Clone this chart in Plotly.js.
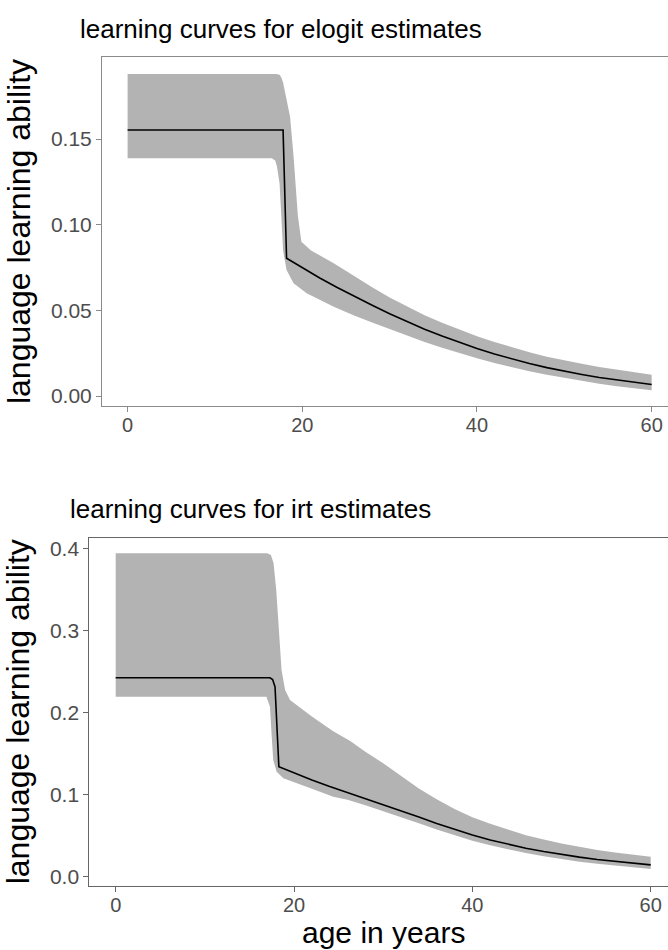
<!DOCTYPE html>
<html>
<head>
<meta charset="utf-8">
<script src="https://cdn.plot.ly/plotly-3.0.1.min.js"></script>
<style>html,body{margin:0;padding:0;background:#fff;}#chart{width:668px;height:950px;}</style>
</head>
<body>
<div id="chart"></div>
<script>
// ---- elogit panel ----
const ageMeanElogit = [0, 17.8, 18.2, 20, 22, 24, 26, 28, 30, 32, 34, 36, 38, 40, 42, 44, 46, 48, 50, 52, 54, 56, 58, 60];
const meanElogit = [0.1553, 0.1553, 0.0804, 0.0748, 0.0689, 0.0634, 0.0581, 0.0530, 0.0480, 0.0434, 0.0390, 0.0350, 0.0312, 0.0277, 0.0245, 0.0216, 0.0190, 0.0166, 0.0145, 0.0126, 0.0108, 0.0093, 0.0079, 0.0067];
const ageUpperElogit = [0, 17.0, 17.4, 17.6, 17.8, 18.2, 18.6, 19.0, 19.2, 19.5, 19.9, 21, 23.6, 26, 28, 30, 32, 34, 36, 38, 40, 42, 44, 46, 48, 50, 52, 54, 56, 58, 60];
const upperElogit = [0.188, 0.188, 0.1875, 0.186, 0.183, 0.174, 0.163, 0.140, 0.124, 0.105, 0.090, 0.085, 0.0775, 0.0696, 0.0635, 0.0575, 0.0522, 0.0472, 0.0428, 0.0387, 0.0349, 0.0315, 0.0284, 0.0256, 0.0230, 0.0208, 0.0188, 0.0169, 0.0153, 0.0139, 0.0125];
const ageLowerElogit = [0, 16.5, 16.9, 17.1, 17.4, 17.6, 17.8, 18.2, 19.0, 20.5, 23.6, 26, 28, 30, 32, 34, 36, 38, 40, 42, 44, 46, 48, 50, 52, 54, 56, 58, 60];
const lowerElogit = [0.1388, 0.1388, 0.1375, 0.134, 0.124, 0.105, 0.085, 0.0736, 0.0658, 0.060, 0.0521, 0.0469, 0.0430, 0.0390, 0.0352, 0.0315, 0.0282, 0.0250, 0.0220, 0.0193, 0.0168, 0.0145, 0.0124, 0.0105, 0.0088, 0.0072, 0.0058, 0.0045, 0.0034];

// ---- irt panel ----
const ageMeanIrt = [0, 17.3, 17.6, 17.87, 18.3, 20, 22, 24, 26, 28, 30, 32, 34, 36, 38, 40, 42, 44, 46, 48, 50, 52, 54, 56, 58, 60];
const meanIrt = [0.2422, 0.2422, 0.240, 0.231, 0.1337, 0.1260, 0.1175, 0.1095, 0.1021, 0.0952, 0.0879, 0.0802, 0.0723, 0.0645, 0.0571, 0.0503, 0.0443, 0.0390, 0.0343, 0.0302, 0.0266, 0.0234, 0.0206, 0.0181, 0.0159, 0.0140];
const ageUpperIrt = [0, 17.0, 17.4, 17.7, 18.0, 18.24, 18.6, 19.0, 19.55, 22, 24.4, 26.3, 28, 30, 32, 34, 36, 38, 40, 42, 44, 46, 48, 50, 52, 54, 56, 58, 60];
const upperIrt = [0.394, 0.394, 0.392, 0.382, 0.350, 0.3126, 0.2516, 0.2272, 0.215, 0.195, 0.177, 0.165, 0.152, 0.138, 0.122, 0.107, 0.094, 0.082, 0.072, 0.064, 0.057, 0.050, 0.045, 0.040, 0.036, 0.032, 0.029, 0.026, 0.0239];
const ageLowerIrt = [0, 16.9, 17.3, 17.5, 17.67, 18.05, 18.8, 20, 22, 24.4, 26, 28, 30, 32, 34, 36, 38, 40, 42, 44, 46, 48, 50, 52, 54, 56, 58, 60];
const lowerIrt = [0.219, 0.219, 0.2068, 0.170, 0.1418, 0.1276, 0.1195, 0.1147, 0.1067, 0.0971, 0.0933, 0.0867, 0.0797, 0.0722, 0.0646, 0.0571, 0.0500, 0.0435, 0.0378, 0.0327, 0.0283, 0.0244, 0.0210, 0.0179, 0.0152, 0.0128, 0.0107, 0.0088];

const xTicks = [0, 20, 40, 60];
const yTicksElogit = [0.00, 0.05, 0.10, 0.15];
const yTickTextElogit = ['0.00', '0.05', '0.10', '0.15'];
const yTicksIrt = [0.0, 0.1, 0.2, 0.3, 0.4];
const yTickTextIrt = ['0.0', '0.1', '0.2', '0.3', '0.4'];

const titleElogit = 'learning curves for elogit estimates';
const titleIrt = 'learning curves for irt estimates';
const yTitle = 'language learning ability';
const xTitle = 'age in years';

const BAND = '#b3b3b3';
function band(lx, ly, ux, uy, xa, ya) {
  return {
    x: ux.concat(lx.slice().reverse()),
    y: uy.concat(ly.slice().reverse()),
    xaxis: xa, yaxis: ya, type: 'scatter', mode: 'lines',
    fill: 'toself', fillcolor: BAND, line: {width: 0, color: BAND},
    hoverinfo: 'skip', showlegend: false
  };
}
function line(x, y, xa, ya) {
  return {x: x, y: y, xaxis: xa, yaxis: ya, type: 'scatter', mode: 'lines',
    line: {color: '#000', width: 1.6}, showlegend: false};
}

const data = [
  band(ageLowerElogit, lowerElogit, ageUpperElogit, upperElogit, 'x', 'y'),
  line(ageMeanElogit, meanElogit, 'x', 'y'),
  band(ageLowerIrt, lowerIrt, ageUpperIrt, upperIrt, 'x2', 'y2'),
  line(ageMeanIrt, meanIrt, 'x2', 'y2')
];

const W = 668, H = 950;
const FONT = 'Liberation Sans, Arial, sans-serif';
const tickFont = {family: FONT, size: 21, color: '#4d4d4d'};
const xTickFont = {family: FONT, size: 20, color: '#4d4d4d'};
const axTitleFont = {family: FONT, size: 32, color: '#000'};
const xTitleFont = {family: FONT, size: 30, color: '#000'};
const titleFont = {family: FONT, size: 26, color: '#000'};

function xaxis(domL, range, lineColor, anchor) {
  return {
    domain: [domL / W, 1], range: range, anchor: anchor,
    tickmode: 'array', tickvals: xTicks, ticktext: xTicks.map(String),
    ticks: 'outside', ticklen: 5, tickwidth: 1, tickcolor: lineColor,
    ticklabelstandoff: -4,
    showline: true, linecolor: lineColor, linewidth: 1, mirror: true,
    showgrid: false, zeroline: false, tickfont: xTickFont
  };
}
function yaxis(top, bottom, range, vals, txt, lineColor, anchor) {
  return {
    domain: [(H - bottom) / H, (H - top) / H], range: range, anchor: anchor,
    tickmode: 'array', tickvals: vals, ticktext: txt,
    ticks: 'outside', ticklen: 5, tickwidth: 1, tickcolor: lineColor,
    showline: true, linecolor: lineColor, linewidth: 1, mirror: false,
    showgrid: false, zeroline: false, tickfont: tickFont,
    title: {text: yTitle, font: axTitleFont, standoff: 10}
  };
}

const layout = {
  width: W, height: H,
  margin: {l: 0, r: 0, t: 0, b: 0},
  paper_bgcolor: '#fff', plot_bgcolor: '#fff',
  showlegend: false,
  xaxis: xaxis(102, [-2.93, 61.87], '#8a8a8a', 'y'),
  yaxis: yaxis(57, 406, [-0.0058, 0.1979], yTicksElogit, yTickTextElogit, '#8a8a8a', 'x'),
  xaxis2: xaxis(89.3, [-2.96, 61.94], '#666', 'y2'),
  yaxis2: yaxis(537.5, 886, [-0.0118, 0.4132], yTicksIrt, yTickTextIrt, '#666', 'x2'),
  annotations: [
    {text: titleElogit, xref: 'paper', yref: 'paper', x: 78 / W, y: (H - 29) / H,
     xanchor: 'left', yanchor: 'middle', showarrow: false, font: titleFont},
    {text: titleIrt, xref: 'paper', yref: 'paper', x: 68 / W, y: (H - 509) / H,
     xanchor: 'left', yanchor: 'middle', showarrow: false, font: titleFont},
    {text: xTitle, xref: 'paper', yref: 'paper', x: 383 / W, y: (H - 932) / H,
     xanchor: 'center', yanchor: 'middle', showarrow: false, font: xTitleFont}
  ]
};

Plotly.newPlot('chart', data, layout, {displayModeBar: false, staticPlot: true});
</script>
</body>
</html>
